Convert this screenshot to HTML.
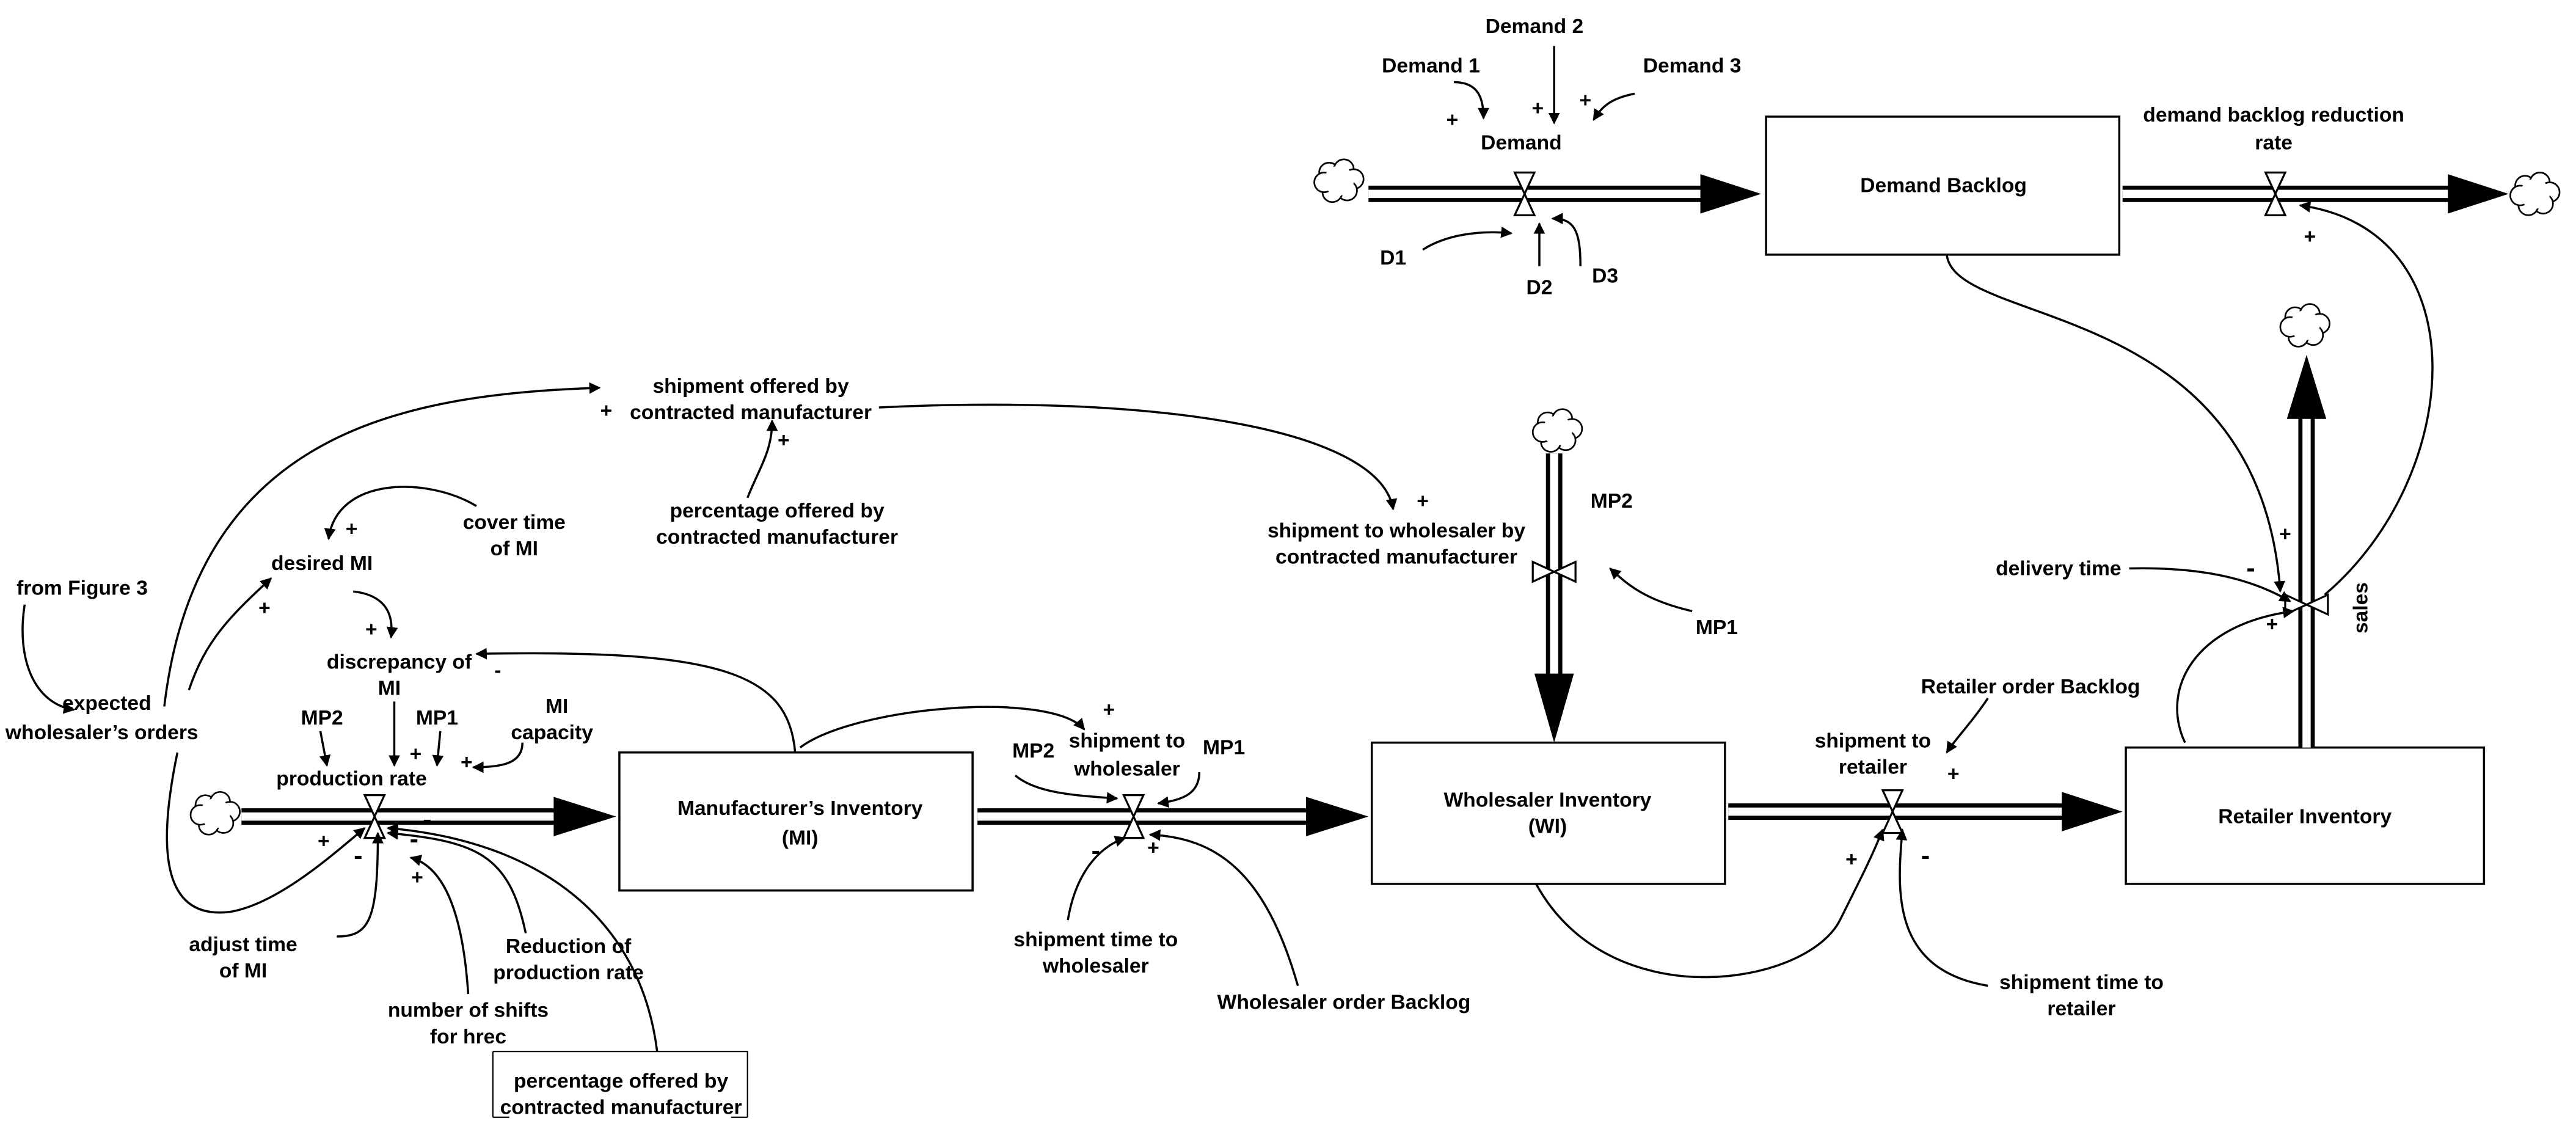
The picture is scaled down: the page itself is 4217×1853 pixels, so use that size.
<!DOCTYPE html>
<html><head><meta charset="utf-8"><style>
html,body{margin:0;padding:0;background:#fff}
svg{display:block}
text{font-family:"Liberation Sans Narrow","Liberation Sans",sans-serif;font-weight:bold;font-size:12.5px;fill:#000;text-anchor:middle}
.c{fill:none;stroke:#000;stroke-width:1.3}
</style></head><body>
<svg width="4217" height="1853" viewBox="0 0 1568 689" xmlns="http://www.w3.org/2000/svg">
<defs>
<marker id="a" viewBox="0 0 10 10" refX="9" refY="5" markerWidth="7" markerHeight="7" orient="auto" markerUnits="userSpaceOnUse">
<path d="M0,0 L10,5 L0,10 z" fill="#000"/></marker>
<g id="cloud"><g fill="#fff" stroke="#000" stroke-width="1">
<circle cx="-6" cy="-5" r="6"/><circle cx="3" cy="-7" r="6"/><circle cx="9" cy="-1" r="6"/><circle cx="5" cy="6" r="6"/><circle cx="-4" cy="7" r="6"/><circle cx="-9" cy="1" r="6"/></g>
<circle cx="0" cy="0" r="9" fill="#fff"/></g>
<g id="vv"><path d="M-6,-13 L6,-13 L0,0 z M-6,13 L6,13 L0,0 z" fill="#fff" stroke="#000" stroke-width="1.2"/></g>
<g id="vh"><path d="M-13,-6 L-13,6 L0,0 z M13,-6 L13,6 L0,0 z" fill="#fff" stroke="#000" stroke-width="1.2"/></g>
</defs>

<!-- boxes -->
<g fill="#fff" stroke="#000" stroke-width="1.3">
<rect x="1075" y="71" width="215" height="84"/>
<rect x="377" y="458" width="215" height="84"/>
<rect x="835" y="452" width="215" height="86"/>
<rect x="1294" y="455" width="218" height="83"/>
</g>

<!-- horizontal pipes -->
<g stroke-linecap="butt">
<g><line x1="833" y1="118" x2="1040" y2="118" stroke="#000" stroke-width="10"/><line x1="833" y1="118" x2="1040" y2="118" stroke="#fff" stroke-width="5"/><path d="M1035,106 L1072,118 L1035,130 z"/></g>
<g><line x1="1292" y1="118" x2="1495" y2="118" stroke="#000" stroke-width="10"/><line x1="1292" y1="118" x2="1495" y2="118" stroke="#fff" stroke-width="5"/><path d="M1490,106 L1527,118 L1490,130 z"/></g>
<g><line x1="147" y1="497" x2="342" y2="497" stroke="#000" stroke-width="10"/><line x1="147" y1="497" x2="342" y2="497" stroke="#fff" stroke-width="5"/><path d="M337,485 L375,497 L337,509 z"/></g>
<g><line x1="595" y1="497" x2="800" y2="497" stroke="#000" stroke-width="10"/><line x1="595" y1="497" x2="800" y2="497" stroke="#fff" stroke-width="5"/><path d="M795,485 L833,497 L795,509 z"/></g>
<g><line x1="1052" y1="494" x2="1260" y2="494" stroke="#000" stroke-width="10"/><line x1="1052" y1="494" x2="1260" y2="494" stroke="#fff" stroke-width="5"/><path d="M1255,482 L1292,494 L1255,506 z"/></g>
<!-- vertical pipes -->
<g><line x1="1404" y1="455" x2="1404" y2="250" stroke="#000" stroke-width="10"/><line x1="1404" y1="455" x2="1404" y2="250" stroke="#fff" stroke-width="5"/><path d="M1392,255 L1404,216 L1416,255 z"/></g>
<g><line x1="946" y1="276" x2="946" y2="415" stroke="#000" stroke-width="10"/><line x1="946" y1="276" x2="946" y2="415" stroke="#fff" stroke-width="5"/><path d="M934,410 L946,452 L958,410 z"/></g>
</g>

<!-- clouds -->
<use href="#cloud" x="815" y="110"/>
<use href="#cloud" x="1543" y="118"/>
<use href="#cloud" x="131" y="495"/>
<use href="#cloud" x="1403" y="198"/>
<use href="#cloud" x="948" y="262"/>

<!-- valves -->
<use href="#vv" x="928" y="118"/>
<use href="#vv" x="1385" y="118"/>
<use href="#vv" x="228" y="497"/>
<use href="#vv" x="690" y="497"/>
<use href="#vv" x="1152" y="494"/>
<use href="#vh" x="1404" y="368"/>
<use href="#vh" x="946" y="348"/>

<!-- connectors -->
<g class="c" marker-end="url(#a)">
<path d="M946,28 L946,75"/>
<path d="M885,50 C900,50 903,60 903,72"/>
<path d="M995,57 C980,60 975,65 970,73"/>
<path d="M866,152 C880,143 900,140 920,142"/>
<path d="M937,162 L937,136"/>
<path d="M962,162 C962,140 958,133 945,133"/>
<path d="M1185,155 C1190,200 1375,180 1388,360"/>
<path d="M1415,362 C1500,290 1510,140 1400,125"/>
<path d="M1296,346 C1340,345 1370,352 1394,366"/>
<path d="M1330,452 C1315,420 1335,380 1396,372"/>
<path d="M100,430 C120,260 250,240 365,236"/>
<path d="M455,303 C462,285 470,275 470,256"/>
<path d="M535,248 C700,240 840,260 848,310"/>
<path d="M290,308 C260,290 205,290 200,328"/>
<path d="M215,360 C233,362 240,372 238,388"/>
<path d="M15,368 C10,400 20,428 45,432"/>
<path d="M115,420 C125,390 140,375 165,352"/>
<path d="M484,458 C480,410 440,395 290,398"/>
<path d="M487,455 C520,430 640,420 660,444"/>
<path d="M195,445 L199,466"/>
<path d="M240,427 L240,466"/>
<path d="M268,445 L266,466"/>
<path d="M318,452 C318,465 305,467 288,467"/>
<path d="M108,458 C95,520 100,560 140,555 C170,550 205,518 222,504"/>
<path d="M205,570 C225,570 230,560 230,507"/>
<path d="M285,605 C282,560 272,528 250,522"/>
<path d="M320,568 C310,520 290,512 236,507"/>
<path d="M400,640 C390,560 330,512 236,504"/>
<path d="M650,560 C655,530 670,515 685,510"/>
<path d="M790,600 C770,530 740,510 700,508"/>
<path d="M618,472 C630,482 650,484 680,486"/>
<path d="M730,470 C730,483 720,487 705,489"/>
<path d="M1030,372 C1000,365 990,355 980,346"/>
<path d="M935,538 C980,620 1100,600 1120,560 C1135,530 1140,520 1146,505"/>
<path d="M1210,600 C1150,590 1155,540 1158,505"/>
<path d="M1210,425 C1200,440 1190,450 1185,458"/>
</g>

<!-- bracket around bottom label -->
<path d="M300,640 L300,680 M300,640 L455,640 L455,680 M300,680 L310,680 M445,680 L455,680" fill="none" stroke="#000" stroke-width="0.8"/>

<!-- labels -->
<text x="934" y="20">Demand 2</text>
<text x="871" y="44">Demand 1</text>
<text x="1030" y="44">Demand 3</text>
<text x="926" y="91">Demand</text>
<text x="884" y="77">+</text><text x="936" y="70">+</text><text x="965" y="65">+</text>
<text x="848" y="161">D1</text><text x="937" y="179">D2</text><text x="977" y="172">D3</text>
<text x="1183" y="117">Demand Backlog</text>
<text x="1384" y="74">demand backlog reduction</text>
<text x="1384" y="91">rate</text>
<text x="1406" y="148">+</text>
<text x="457" y="239">shipment offered by</text>
<text x="457" y="255">contracted manufacturer</text>
<text x="369" y="254">+</text><text x="477" y="272">+</text>
<text x="473" y="315">percentage offered by</text>
<text x="473" y="331">contracted manufacturer</text>
<text x="866" y="309">+</text>
<text x="850" y="327">shipment to wholesaler by</text>
<text x="850" y="343">contracted manufacturer</text>
<text x="981" y="309">MP2</text>
<text x="1045" y="386">MP1</text>
<text x="313" y="322">cover time</text>
<text x="313" y="338">of MI</text>
<text x="214" y="326">+</text>
<text x="196" y="347">desired MI</text>
<text x="161" y="374">+</text>
<text x="50" y="362">from Figure 3</text>
<text x="226" y="387">+</text>
<text x="243" y="407">discrepancy of</text>
<text x="237" y="423">MI</text>
<text x="303" y="412">-</text>
<text x="65" y="432">expected</text>
<text x="62" y="450">wholesaler’s orders</text>
<text x="196" y="441">MP2</text>
<text x="266" y="441">MP1</text>
<text x="339" y="434">MI</text>
<text x="336" y="450">capacity</text>
<text x="214" y="478">production rate</text>
<text x="253" y="463">+</text><text x="284" y="468">+</text>
<text x="197" y="516">+</text>
<text x="218" y="526" style="font-size:16px">-</text>
<text x="260" y="504" style="font-size:16px">-</text>
<text x="252" y="516" style="font-size:16px">-</text>
<text x="254" y="538">+</text>
<text x="148" y="579">adjust time</text>
<text x="148" y="595">of MI</text>
<text x="346" y="580">Reduction of</text>
<text x="346" y="596">production rate</text>
<text x="285" y="619">number of shifts</text>
<text x="285" y="635">for hrec</text>
<text x="378" y="662">percentage offered by</text>
<text x="378" y="678">contracted manufacturer</text>
<text x="487" y="496">Manufacturer’s Inventory</text>
<text x="487" y="514">(MI)</text>
<text x="675" y="436">+</text>
<text x="686" y="455">shipment to</text>
<text x="686" y="472">wholesaler</text>
<text x="629" y="461">MP2</text>
<text x="745" y="459">MP1</text>
<text x="667" y="523" style="font-size:16px">-</text>
<text x="702" y="520">+</text>
<text x="667" y="576">shipment time to</text>
<text x="667" y="592">wholesaler</text>
<text x="818" y="614">Wholesaler order Backlog</text>
<text x="942" y="491">Wholesaler Inventory</text>
<text x="942" y="507">(WI)</text>
<text x="1236" y="422">Retailer order Backlog</text>
<text x="1140" y="455">shipment to</text>
<text x="1140" y="471">retailer</text>
<text x="1189" y="475">+</text>
<text x="1127" y="527">+</text>
<text x="1172" y="526" style="font-size:16px">-</text>
<text x="1267" y="602">shipment time to</text>
<text x="1267" y="618">retailer</text>
<text x="1403" y="501">Retailer Inventory</text>
<text x="1253" y="350">delivery time</text>
<text x="1370" y="351" style="font-size:16px">-</text>
<text x="1391" y="329">+</text>
<text x="1383" y="384">+</text>
<text x="0" y="0" transform="translate(1441,370) rotate(-90)">sales</text>
</svg>
</body></html>
